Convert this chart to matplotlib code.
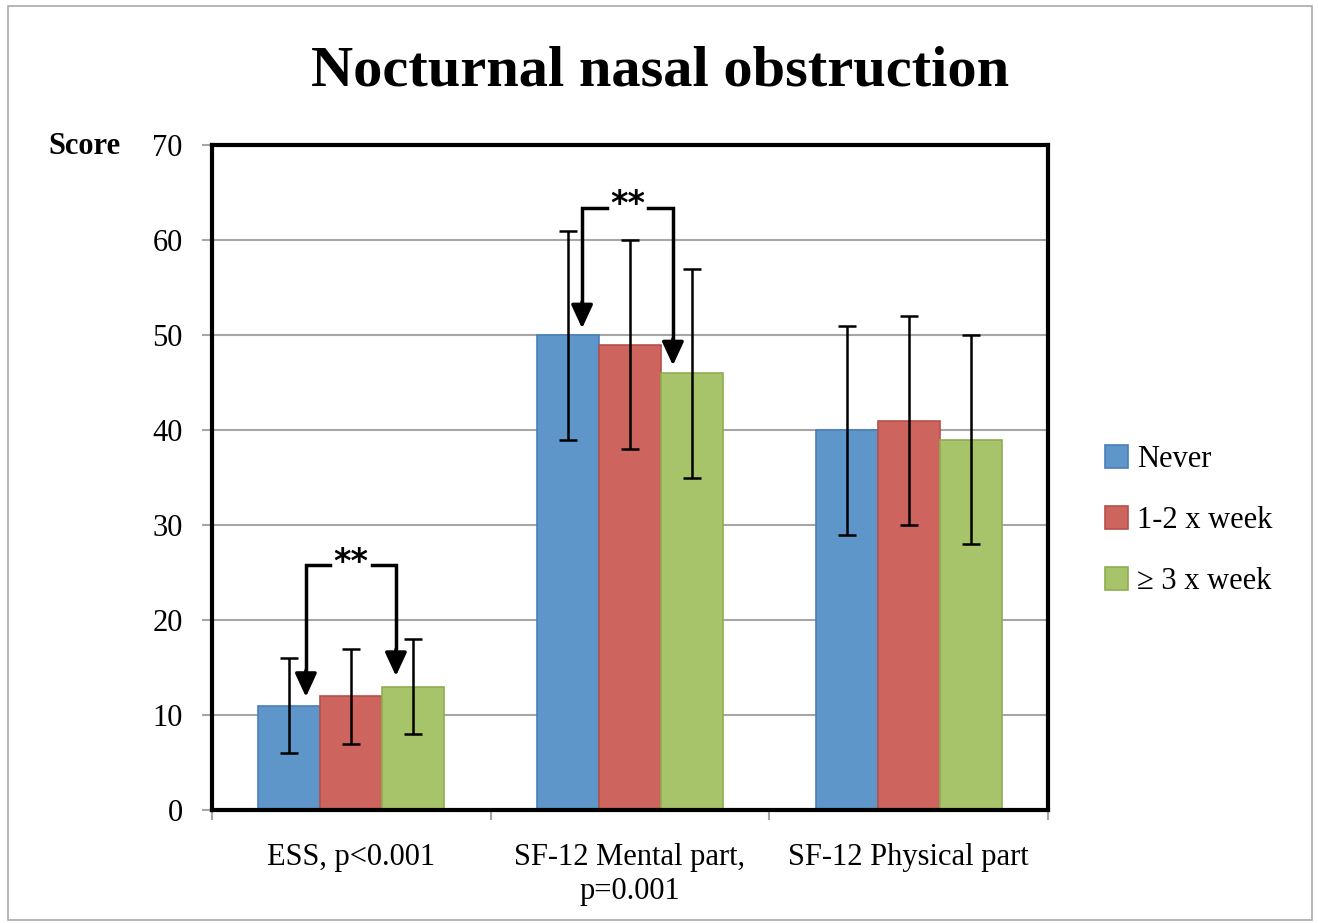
import matplotlib
matplotlib.use("Agg")
import matplotlib.pyplot as plt
import numpy as np
from matplotlib.patches import Rectangle

categories = ["ESS, p<0.001", "SF-12 Mental part,\np=0.001", "SF-12 Physical part"]
series_names = ["Never", "1-2 x week", "\u2265 3 x week"]
never = [11, 50, 40]
week12 = [12, 49, 41]
week3 = [13, 46, 39]
never_err = [5, 11, 11]
week12_err = [5, 11, 11]
week3_err = [5, 11, 11]

# significance brackets: (x left, x right, bracket level, left tip, right tip)
sig_ess = (-0.163, 0.160, 25.8, 11.9, 14.1)
sig_mental = (0.828, 1.154, 63.4, 50.7, 46.8)

face = ["#5F96C9", "#CD645E", "#A8C46A"]
edge = ["#4A7EBB", "#B5504B", "#8FAE50"]

plt.rcParams['font.family'] = ['Liberation Serif', 'DejaVu Serif']

fig = plt.figure(figsize=(13.18, 9.23), dpi=100)
fig.patches.append(Rectangle((8 / 1318, 3 / 923), 1304 / 1318, 914 / 923,
                             transform=fig.transFigure, fill=False,
                             edgecolor="#aaaaaa", lw=1.2))
ax = fig.add_axes([212 / 1318, 1 - 810 / 923, 836 / 1318, 665 / 923])

x = np.arange(len(categories))
w = 2 / 9
for i, (vals, errs) in enumerate([(never, never_err), (week12, week12_err), (week3, week3_err)]):
    ax.bar(x + (i - 1) * w, vals, w, color=face[i], edgecolor=edge[i], lw=1.2,
           label=series_names[i], zorder=2)
    ax.errorbar(x + (i - 1) * w, vals, yerr=errs, fmt='none', ecolor='black',
                elinewidth=1.8, capsize=6.5, capthick=1.8, zorder=3)

for xl, xr, lev, tl, tr in [sig_ess, sig_mental]:
    xm = (xl + xr) / 2
    ax.plot([xl, xl, xm - 0.075], [tl + 2.5, lev, lev], color='black', lw=2.5,
            solid_joinstyle='miter', zorder=4)
    ax.plot([xm + 0.075, xr, xr], [lev, lev, tr + 2.5], color='black', lw=2.5,
            solid_joinstyle='miter', zorder=4)
    for xx, tip in [(xl, tl), (xr, tr)]:
        ax.annotate('', xy=(xx, tip), xytext=(xx, tip + 2.8),
                    arrowprops=dict(arrowstyle='-|>,head_length=0.65,head_width=0.3',
                                    color='black', lw=2.5,
                                    mutation_scale=22, shrinkA=0, shrinkB=0),
                    zorder=5)
    ax.text(xm, lev + 0.3, "**", ha='center', va='center', fontsize=24,
            fontweight='bold', family='DejaVu Sans', zorder=5)

ax.set_xlim(-0.5, 2.5)
ax.set_ylim(0, 70)
ax.set_yticks(range(0, 71, 10))
ax.yaxis.grid(True, color='#a6a6a6', lw=1.5, zorder=0)
ax.set_axisbelow(True)
for s in ax.spines.values():
    s.set_linewidth(3)
    s.set_color('black')
ax.set_xticks(x)
ax.set_xticklabels(categories, fontsize=22, linespacing=1.2)
ax.tick_params(axis='x', which='major', length=0, pad=24)
ax.set_xticks([-0.5, 0.5, 1.5, 2.5], minor=True)
ax.tick_params(axis='x', which='minor', length=7, width=1.5, color='#a6a6a6')
ax.tick_params(axis='y', length=7, width=1.5, color='#a6a6a6', labelsize=22, pad=14)

fig.text(660 / 1318, 1 - 72 / 923, "Nocturnal nasal obstruction", ha='center',
         va='center', fontsize=42, fontweight='bold')
fig.text(84 / 1318, 1 - 147 / 923, "Score", ha='center', va='center',
         fontsize=22, fontweight='bold')

ax.legend(loc='center left', bbox_to_anchor=(1.035, 0.435), frameon=False,
          fontsize=22, handlelength=0.75, handleheight=0.75, handletextpad=0.3,
          labelspacing=1.05)

fig.savefig("out.png", dpi=100)
